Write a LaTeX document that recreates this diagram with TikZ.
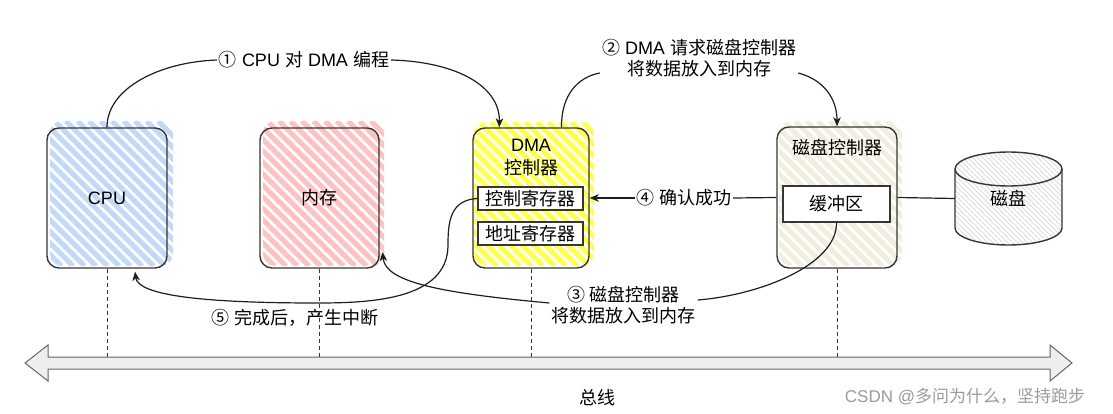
\documentclass[tikz,border=0pt]{standalone}
\usepackage{fontspec}
\setmainfont{Liberation Sans}
\newfontfamily\cjk{Noto Sans CJK SC}
\usetikzlibrary{arrows.meta,calc}

\definecolor{ink}{HTML}{363636}
\definecolor{wire}{HTML}{1E1E1E}
\definecolor{hblue}{HTML}{C2DAF8}
\definecolor{hpink}{HTML}{FFC2C2}
\definecolor{hyellow}{HTML}{FFFF50}
\definecolor{hbeige}{HTML}{F1EEDE}
\definecolor{hgrey}{HTML}{DCDCDC}
\definecolor{busfill}{HTML}{EEEEEE}
\definecolor{busline}{HTML}{666666}
\definecolor{wmark}{HTML}{9A9A9A}

\newcommand{\zh}[1]{{\cjk #1}}

% diagonal hachure inside a rounded rectangle:
% #1 left, #2 top, #3 right, #4 bottom, #5 colour, #6 gap, #7 stroke width
\newcommand{\hatch}[7]{%
  \begin{scope}
    \clip[rounded corners=12pt] (#1,#2) rectangle (#3,#4);
    \pgfmathsetmacro{\hspan}{#4-#2}
    \pgfmathsetmacro{\hfrom}{#1-\hspan}
    \pgfmathsetmacro{\hthen}{\hfrom+#6}
    \foreach \s in {\hfrom,\hthen,...,#3}
      \draw[draw=#5, line width=#7pt] (\s,#2) -- ++(\hspan,\hspan);
  \end{scope}}

\tikzset{
  box/.style={draw=ink, line width=1.4pt, rounded corners=12pt, inner sep=0pt},
  reg/.style={draw=ink, line width=1.2pt, fill=white, inner sep=0pt,
              minimum width=105pt, minimum height=23pt},
  lbl/.style={inner sep=2pt},
  conn/.style={draw=wire, line width=1.2pt},
  arr/.style={conn, -{Stealth[length=9pt,width=7.5pt,inset=2.5pt]}},
  busdash/.style={draw=ink, line width=1pt, dash pattern=on 4pt off 3pt},
  busbar/.style={draw=busline, fill=busfill, line width=1pt, line join=miter}
}

\begin{document}
\begin{tikzpicture}[x=1pt, y=-1pt, font=\fontsize{18}{21}\selectfont]
\useasboundingbox (0,0) rectangle (1113,414);

% hatched fills behind the boxes
\hatch{50}{121}{173}{266}{hblue}{11.5}{5.2}
\hatch{263}{121}{384}{266}{hpink}{11.5}{5.2}
\hatch{474}{122}{594}{266}{hyellow}{11.5}{5.2}
\hatch{779}{121}{902}{266}{hbeige}{11.5}{5.2}

% the disk: a hatched cylinder
\begin{scope}
  \clip (955,169) -- (955,228)
        arc[start angle=180, end angle=0, x radius=53.5, y radius=17]
        -- (1062,169)
        arc[start angle=0, end angle=-180, x radius=53.5, y radius=17] -- cycle;
  \foreach \s in {855,860,...,1065}
    \draw[draw=hgrey, line width=0.8pt] (\s,150) -- ++(100,100);
\end{scope}
\draw[draw=ink, line width=1.4pt, line join=round]
  (955,169) -- (955,228)
  arc[start angle=180, end angle=0, x radius=53.5, y radius=17]
  -- (1062,169)
  arc[start angle=0, end angle=-180, x radius=53.5, y radius=17] -- cycle;
\draw[draw=ink, line width=1.4pt]
  (955,169) arc[start angle=180, end angle=0, x radius=53.5, y radius=17];
\node[minimum width=107pt, minimum height=93pt, inner sep=0pt] (disk) at (1008.5,198.5) {\zh{磁盘}};

% units
\node[box, minimum width=120pt, minimum height=140pt] (cpu) at (107,198) {CPU};
\node[box, minimum width=119pt, minimum height=140pt] (mem) at (319.5,198) {\zh{内存}};
\node[box, minimum width=116pt, minimum height=140pt] (dma) at (531,198) {};
\node[align=center, inner sep=0pt] (dmat) at (531,158) {DMA\\[2pt]\zh{控制器}};
\node[reg] (ctrlreg) at (530.5,198.5) {\zh{控制寄存器}};
\node[reg] (addrreg) at (530.5,233.5) {\zh{地址寄存器}};
\node[box, minimum width=120pt, minimum height=141pt] (dc) at (837,197.5) {};
\node[inner sep=0pt] (dct) at (837,148) {\zh{磁盘控制器}};
\node[reg, minimum width=107pt, minimum height=36pt] (buf) at (836.5,204) {\zh{缓冲区}};

% step labels
\node[lbl] (l1) at (304,60) {\zh{①} CPU \zh{对} DMA \zh{编程}};
\node[lbl, align=center] (l2) at (699,58.5) {\zh{②} DMA \zh{请求磁盘控制器}\\\zh{将数据放入到内存}};
\node[lbl] (l4) at (684,198) {\zh{④ 确认成功}};
\node[lbl, align=center] (l3) at (623.5,305) {\zh{③ 磁盘控制器}\\\zh{将数据放入到内存}};
\node[lbl] (l5) at (295,318) {\zh{⑤ 完成后，产生中断}};

% step 1
\draw[conn] (cpu.north) .. controls (107,88) and (160,62) .. (l1.west);
\draw[arr] (l1.east) .. controls (460,62) and (500,88) .. ($(dma.north west)!0.23!(dma.north east)$);
% step 2
\draw[conn] ($(dma.north west)!0.76!(dma.north east)$) .. controls (561,95) and (578,77) .. ([yshift=-14.5pt]l2.west);
\draw[arr] ([yshift=-14.5pt]l2.east) .. controls (825,80) and (837,100) .. (dc.north);
% step 4
\draw[conn] (dc.west) -- (l4.east);
\draw[arr] (l4.west) -- (dma.east);
\draw[conn] (dc.east) -- (disk.west);
% step 3
\draw[conn] (buf.south) .. controls (837,265) and (760,295) .. ([yshift=5pt]l3.east);
\draw[arr] ([yshift=2pt]l3.west) .. controls (440,293) and (385,282) .. ([xshift=3pt,yshift=-54pt]mem.east);
% step 5
\draw[arr] (ctrlreg.west) .. controls (450,200) and (448,222) .. (448,245)
  .. controls (448,300) and (370,303) .. (317,303)
  .. controls (200,303) and (138,295) .. ([xshift=28pt,yshift=-3pt]cpu.south);

% system bus
\coordinate (bustop) at (0,357);
\draw[busbar] (25,363) -- (48,345) -- (48,357) -- (1050,357) -- (1050,345)
  -- (1072,363) -- (1050,381) -- (1050,369) -- (48,369) -- (48,381) -- cycle;
\draw[busdash] (cpu.south) -- (cpu.south |- bustop);
\draw[busdash] (mem.south) -- (mem.south |- bustop);
\draw[busdash] (dma.south) -- (dma.south |- bustop);
\draw[busdash] (dc.south) -- (dc.south |- bustop);
\node (bus) at (597,398) {\zh{总线}};
\node[text=wmark, font=\fontsize{17}{20}\selectfont] (wm) at (965,397) {CSDN @\zh{多问为什么，坚持跑步}};
\end{tikzpicture}
\end{document}
